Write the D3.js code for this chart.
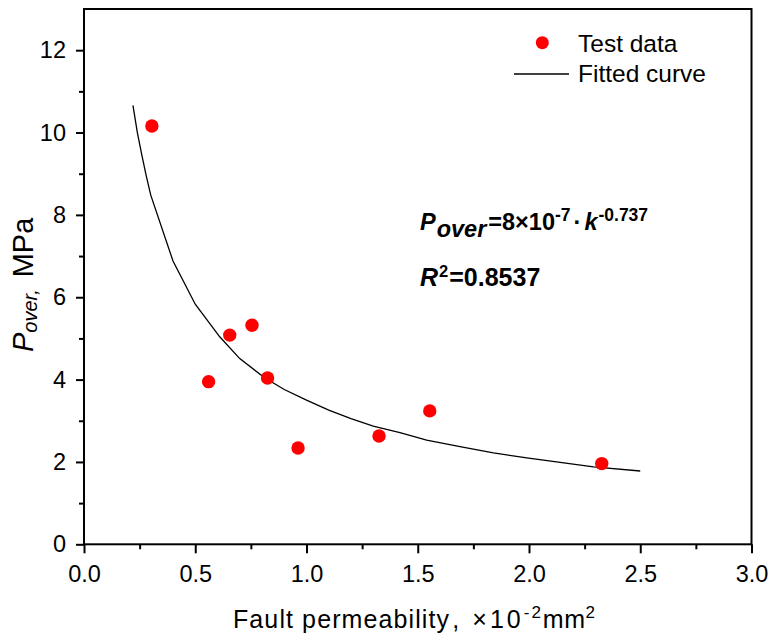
<!DOCTYPE html>
<html>
<head>
<meta charset="utf-8">
<script src="https://cdn.jsdelivr.net/npm/d3@7"></script>
<style>
  body { margin: 0; background: #fff; }
  svg { display: block; font-family: Arial, "Liberation Sans", sans-serif; }
  .tick text { font-size: 23.5px; fill: #000; }
  .tick line { stroke: #000; stroke-width: 2; }
</style>
</head>
<body>
<div id="chart"></div>
<script>
// test data
const permeability = [0.305, 0.56, 0.655, 0.755, 0.825, 0.962, 1.326, 1.554, 2.327];
const pressure = [10.16, 3.95, 5.08, 5.32, 4.04, 2.34, 2.63, 3.24, 1.96];

// fitted curve, sampled from the plotted line
const fitK = [0.22, 0.24, 0.26, 0.28, 0.30, 0.40, 0.50, 0.61, 0.70, 0.81, 0.90, 1.00, 1.10, 1.20, 1.30, 1.42, 1.54, 1.69, 1.84, 1.99, 2.14, 2.29, 2.50];
const fitP = [10.66, 9.99, 9.45, 8.94, 8.48, 6.88, 5.83, 5.04, 4.51, 4.05, 3.76, 3.50, 3.26, 3.05, 2.87, 2.71, 2.53, 2.37, 2.22, 2.10, 1.99, 1.88, 1.78];

const xMajor = [0, 0.5, 1.0, 1.5, 2.0, 2.5, 3.0];
const xMinor = [0.25, 0.75, 1.25, 1.75, 2.25, 2.75];
const yMajor = [0, 2, 4, 6, 8, 10, 12];
const yMinor = [1, 3, 5, 7, 9, 11];

const W = 772, H = 636;
const plotL = 84, plotR = 751.5, plotT = 9, plotB = 544.3;

const svg = d3.select("#chart").append("svg")
  .attr("width", W).attr("height", H);

const x = d3.scaleLinear().domain([0, 3]).range([plotL, plotR]);
const y = d3.scaleLinear().domain([0, 13]).range([plotB, plotT]);

// axes (ticks outward, left and bottom only)
svg.append("g").attr("transform", `translate(0,${plotB})`)
  .call(d3.axisBottom(x).tickValues(xMajor).tickFormat(d3.format(".1f")).tickSize(9).tickPadding(12));
svg.append("g").attr("transform", `translate(0,${plotB})`)
  .call(d3.axisBottom(x).tickValues(xMinor).tickFormat("").tickSize(5));
svg.append("g").attr("transform", `translate(${plotL},0)`)
  .call(d3.axisLeft(y).tickValues(yMajor).tickFormat(d3.format("d")).tickSize(8).tickPadding(10));
svg.append("g").attr("transform", `translate(${plotL},0)`)
  .call(d3.axisLeft(y).tickValues(yMinor).tickFormat("").tickSize(5));
svg.selectAll(".domain").remove();

// frame
svg.append("rect")
  .attr("x", plotL).attr("y", plotT)
  .attr("width", plotR - plotL).attr("height", plotB - plotT)
  .attr("fill", "none").attr("stroke", "#000").attr("stroke-width", 2);

// fitted curve
const fitData = fitK.map((k, i) => [k, fitP[i]]);
svg.append("path")
  .datum(fitData)
  .attr("fill", "none")
  .attr("stroke", "#000")
  .attr("stroke-width", 1.3)
  .attr("d", d3.line().x(d => x(d[0])).y(d => y(d[1])));

// test points
svg.append("g").selectAll("circle")
  .data(permeability.map((k, i) => [k, pressure[i]]))
  .join("circle")
  .attr("cx", d => x(d[0]))
  .attr("cy", d => y(d[1]))
  .attr("r", 6.7)
  .attr("fill", "#ff0000");

// legend
svg.append("circle").attr("cx", 542.3).attr("cy", 42.7).attr("r", 6.5).attr("fill", "#ff0000");
svg.append("text").attr("x", 578).attr("y", 51.5).attr("font-size", 24.5).text("Test data");
svg.append("line").attr("x1", 514).attr("x2", 569).attr("y1", 74).attr("y2", 74)
  .attr("stroke", "#000").attr("stroke-width", 1.3);
svg.append("text").attr("x", 578).attr("y", 81.5).attr("font-size", 24.5).text("Fitted curve");

// equation
const eq = svg.append("text").attr("x", 420).attr("y", 229.5)
  .attr("font-size", 23.5).attr("font-weight", "bold");
eq.append("tspan").attr("font-style", "italic").text("P");
eq.append("tspan").attr("font-style", "italic").attr("dy", 7).attr("dx", 1).text("over");
eq.append("tspan").attr("dy", -7).attr("dx", 2).text("=8×10");
eq.append("tspan").attr("font-size", 17.5).attr("dy", -9).text("-7");
eq.append("tspan").attr("dy", 9).attr("dx", 3).text("·");
eq.append("tspan").attr("font-style", "italic").attr("dx", 3).text("k");
eq.append("tspan").attr("font-size", 17.5).attr("dy", -9).attr("dx", 1).text("-0.737");

const r2 = svg.append("text").attr("x", 420).attr("y", 285.5)
  .attr("font-size", 25).attr("font-weight", "bold");
r2.append("tspan").attr("font-style", "italic").text("R");
r2.append("tspan").attr("font-size", 16.5).attr("dy", -9).attr("dx", 1).text("2");
r2.append("tspan").attr("dy", 9).attr("dx", 1).text("=0.8537");

// x axis title
const xt = svg.append("text").attr("x", 233).attr("y", 627.5)
  .attr("font-size", 25).attr("letter-spacing", 1.1);
xt.append("tspan").text("Fault permeability");
xt.append("tspan").attr("dx", 4).text(",");
xt.append("tspan").attr("dx", 12).attr("letter-spacing", 3).text("×10");
xt.append("tspan").attr("font-size", 17).attr("letter-spacing", 2).attr("dy", -10).text("-2");
xt.append("tspan").attr("dy", 10).attr("letter-spacing", 0.5).text("mm");
xt.append("tspan").attr("font-size", 17).attr("dy", -10).text("2");

// y axis title
const yt = svg.append("text")
  .attr("transform", "translate(33,352) rotate(-90)")
  .attr("font-size", 29);
yt.append("tspan").attr("font-style", "italic").text("P");
yt.append("tspan").attr("font-style", "italic").attr("font-size", 20).attr("dy", 4).text("over,");
yt.append("tspan").attr("dy", -4).attr("dx", 12).text("MPa");
</script>
</body>
</html>
